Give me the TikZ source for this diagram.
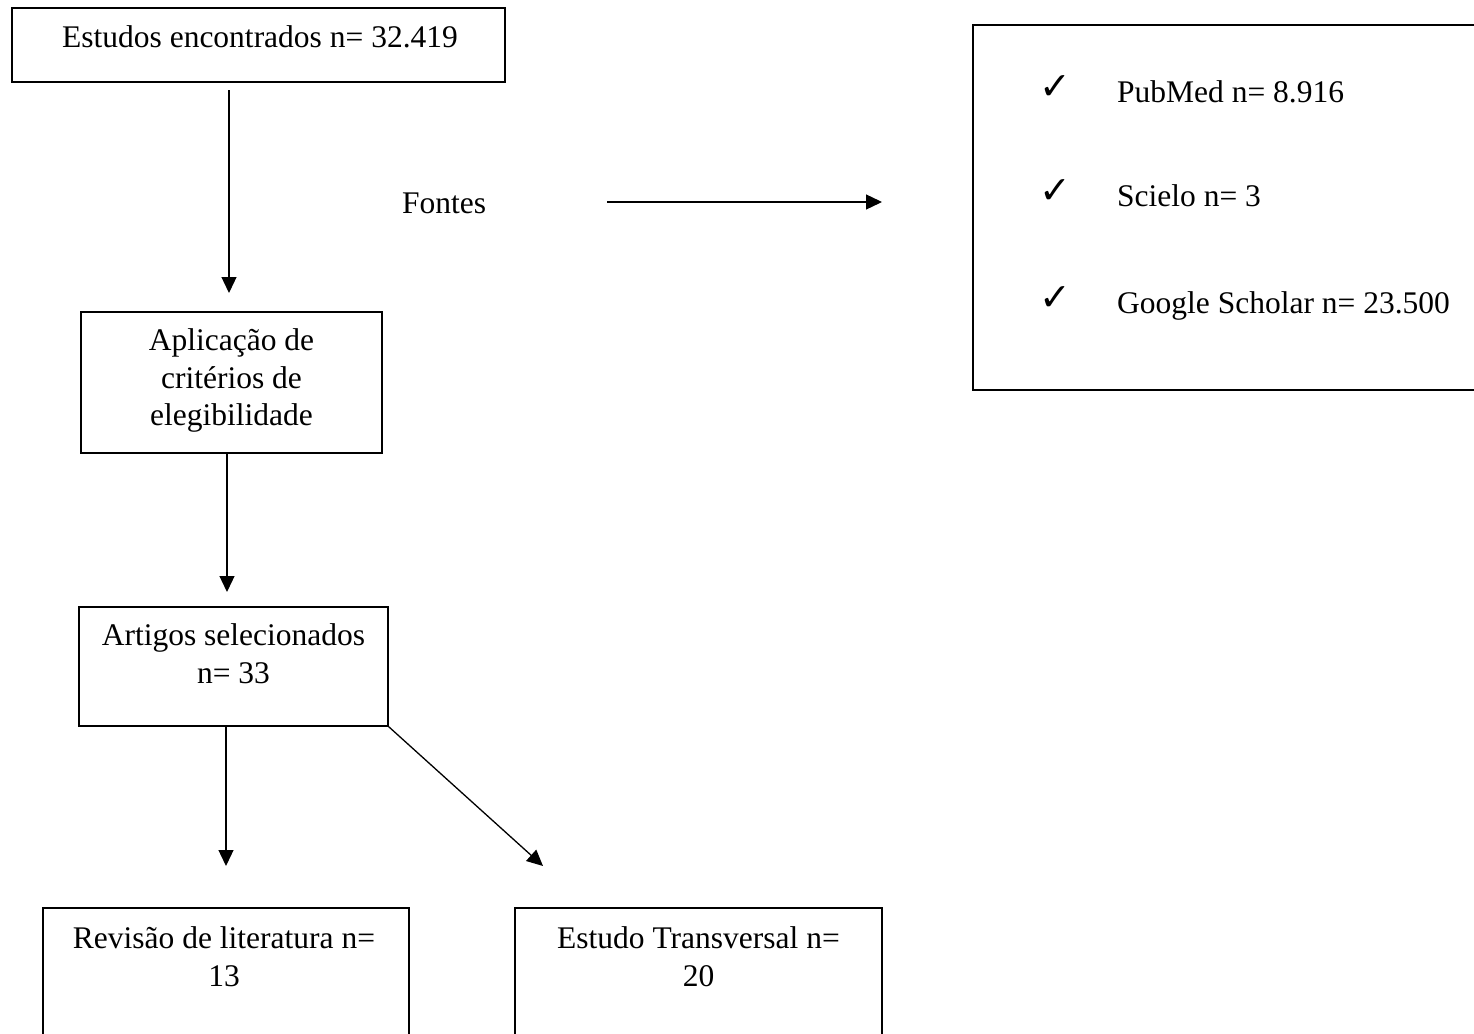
\documentclass[tikz,border=0pt]{standalone}
\usepackage{fontspec}
\setmainfont{Liberation Serif}
\newfontfamily\symfont{DejaVu Sans}
\usetikzlibrary{arrows.meta}
\begin{document}
\begin{tikzpicture}[x=1pt,y=-1pt,
  boxnode/.style={draw, line width=1.3pt, rectangle, inner sep=0pt},
  txt/.style={inner sep=0pt, font=\fontsize{31.5}{37.5}\selectfont, align=center},
  arr/.style={line width=1.3pt, -{Triangle[width=15pt,length=16pt]}},
  chk/.style={inner sep=0pt, font=\symfont\fontsize{38}{40}\selectfont}]
\useasboundingbox (0,0) rectangle (1474,1033);
\clip (0,0) rectangle (1474,1033);
% boxes
\node[boxnode, minimum width=493pt, minimum height=74pt] (b1) at (258.5,45) {};
\node[boxnode, minimum width=301pt, minimum height=141pt] (b2) at (231.5,382.5) {};
\node[boxnode, minimum width=309pt, minimum height=119pt] (b3) at (233.5,666.5) {};
\node[boxnode, minimum width=366pt, minimum height=160pt] (b4) at (226,988) {};
\node[boxnode, minimum width=367pt, minimum height=160pt] (b5) at (698.5,988) {};
\node[boxnode, minimum width=540pt, minimum height=365pt] (bf) at (1243,207.5) {};
% texts
\node[txt, anchor=base] (t1) at (260,48) {Estudos encontrados n= 32.419};
\node[txt, anchor=north] (t2) at (231.5,328.5) {Aplicação de\\critérios de\\elegibilidade};
\node[txt, anchor=north] (t3) at (233.5,623.5) {Artigos selecionados\\n= 33};
\node[txt, anchor=north] (t4) at (224,926.5) {Revisão de literatura n=\\13};
\node[txt, anchor=north] (t5) at (698.5,926.5) {Estudo Transversal n=\\20};
\node[txt, anchor=base west] (fontes) at (402,213) {Fontes};
\node[chk, anchor=base] (c1) at (1055,99) {✓};
\node[chk, anchor=base] (c2) at (1055,203) {✓};
\node[chk, anchor=base] (c3) at (1055,310) {✓};
\node[txt, anchor=base west] (s1) at (1117,102) {PubMed n= 8.916};
\node[txt, anchor=base west] (s2) at (1117,206) {Scielo n= 3};
\node[txt, anchor=base west] (s3) at (1117,313) {Google Scholar n= 23.500};
% connector ends
\coordinate (a1s) at (229,90);
\coordinate (a1e) at (229,293);
\coordinate (a2s) at (227,453);
\coordinate (a2e) at (227,592);
\coordinate (a3s) at (226,726);
\coordinate (a3e) at (226,866);
\coordinate (a4e) at (543,866);
\coordinate (f1) at (607,202);
\coordinate (f2) at (882,202);
% connectors
\draw[arr] (a1s) -- (a1e);
\draw[arr] (a2s) -- (a2e);
\draw[arr] (a3s) -- (a3e);
\draw[arr] (b3.south east) -- (a4e);
\draw[arr] (f1) -- (f2);
\end{tikzpicture}
\end{document}
